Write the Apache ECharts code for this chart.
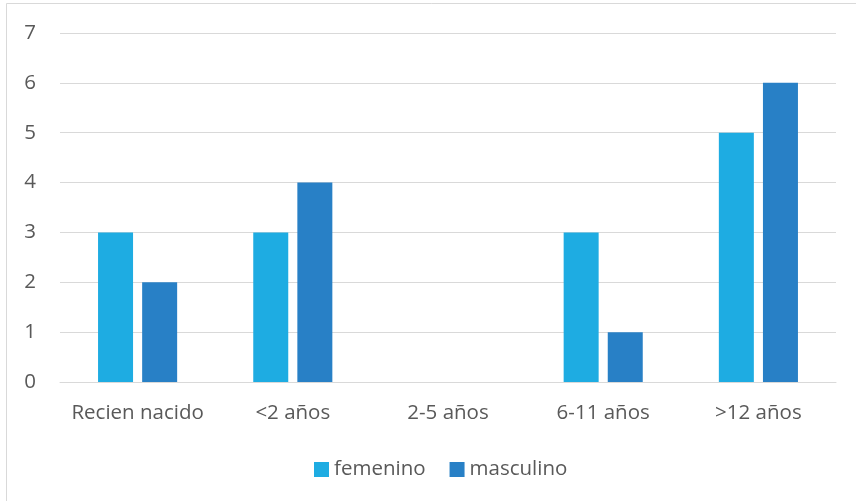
<!DOCTYPE html>
<html>
<head>
<meta charset="utf-8">
<script src="https://cdn.jsdelivr.net/npm/echarts@6/dist/echarts.min.js"></script>
<style>
  html, body { margin: 0; padding: 0; background: #fff; }
  #chart { width: 856px; height: 501px; }
</style>
</head>
<body>
<div id="chart"></div>
<script>
// Age groups on the category axis
const categories = ['Recien nacido', '<2 años', '2-5 años', '6-11 años', '>12 años'];
// Counts per sex
const femenino = [3, 3, 0, 3, 5];
const masculino = [2, 4, 0, 1, 6];
// Value axis range
const yMin = 0;
const yMax = 7;
const yStep = 1;

const textColor = '#595959';
const fontFamily = '"Open Sans", "Noto Sans", sans-serif';
const fontSize = 20.5;

const chart = echarts.init(document.getElementById('chart'), null, { renderer: 'canvas' });
chart.setOption({
  animation: false,
  backgroundColor: '#fff',
  graphic: [{
    type: 'rect',
    shape: { x: 6.5, y: 3.5, width: 900, height: 600 },
    style: { fill: 'none', stroke: '#d9d9d9', lineWidth: 1 },
    silent: true
  }],
  grid: { left: 60, right: 20, top: 33, bottom: 119, containLabel: false },
  legend: {
    data: ['femenino', 'masculino'],
    top: 454,
    left: 309,
    itemWidth: 15,
    itemHeight: 15,
    itemGap: 24,
    icon: 'rect',
    textStyle: { color: textColor, fontSize: fontSize, fontFamily: fontFamily }
  },
  xAxis: {
    type: 'category',
    data: categories,
    axisLine: { lineStyle: { color: '#d9d9d9', width: 1 } },
    axisTick: { show: false },
    axisLabel: { color: textColor, fontSize: fontSize, fontFamily: fontFamily, margin: 21, interval: 0 }
  },
  yAxis: {
    type: 'value',
    min: yMin,
    max: yMax,
    interval: yStep,
    axisLine: { show: false },
    axisTick: { show: false },
    axisLabel: { color: textColor, fontSize: fontSize, fontFamily: fontFamily, margin: 24 },
    splitLine: { lineStyle: { color: '#d9d9d9', width: 1 } }
  },
  series: [
    {
      name: 'femenino',
      type: 'bar',
      data: femenino,
      barWidth: 35,
      barGap: '26%',
      itemStyle: { color: '#1eace2' }
    },
    {
      name: 'masculino',
      type: 'bar',
      data: masculino,
      barWidth: 35,
      itemStyle: { color: '#2880c6' }
    }
  ]
});
</script>
</body>
</html>
